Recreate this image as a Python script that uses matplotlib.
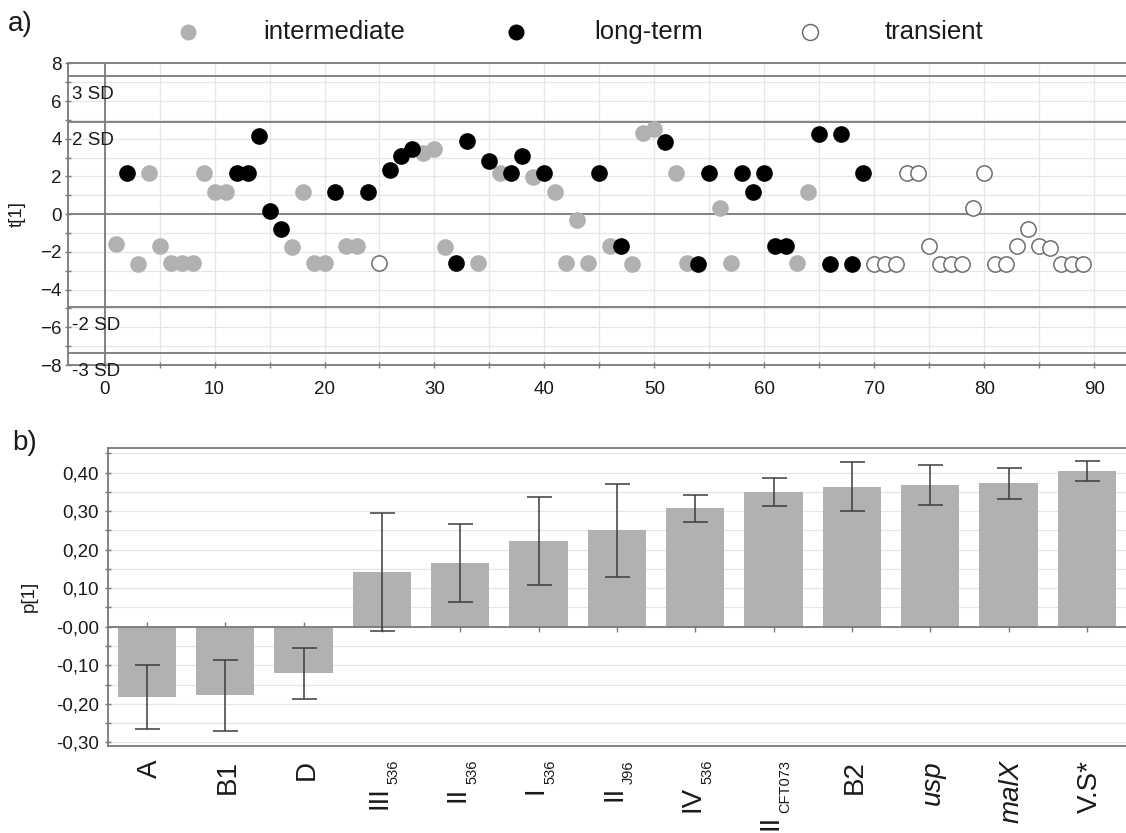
import matplotlib
matplotlib.use("Agg")
import matplotlib.pyplot as plt
from matplotlib.lines import Line2D
from matplotlib.ticker import MultipleLocator, FixedLocator, FixedFormatter
from matplotlib.transforms import blended_transform_factory, offset_copy

plt.rcParams["font.family"] = ["Liberation Sans", "DejaVu Sans"]

# ---- panel a: scores t[1] per observation ----
intermediate_idx = [1, 3, 4, 5, 6, 7, 8, 9, 10, 11, 17, 18, 19, 20, 22, 23, 29, 30,
                    31, 34, 36, 39, 41, 42, 43, 44, 46, 48, 49, 50, 52, 53, 56, 57, 63, 64]
intermediate_t = [-1.60, -2.67, 2.17, -1.69, -2.58, -2.58, -2.58, 2.17, 1.19, 1.19,
                  -1.72, 1.19, -2.58, -2.58, -1.69, -1.69, 3.25, 3.47, -1.72, -2.58,
                  2.17, 1.95, 1.19, -2.58, -0.32, -2.58, -1.69, -2.67, 4.30, 4.53,
                  2.17, -2.58, 0.30, -2.58, -2.58, 1.19]

longterm_idx = [2, 12, 13, 14, 15, 16, 21, 24, 26, 27, 28, 32, 33, 35, 37, 38, 40, 45,
                47, 51, 54, 55, 58, 59, 60, 61, 62, 65, 66, 67, 68, 69]
longterm_t = [2.17, 2.17, 2.17, 4.14, 0.19, -0.80, 1.19, 1.19, 2.36, 3.07, 3.47, -2.58,
              3.86, 2.84, 2.17, 3.11, 2.17, 2.17, -1.69, 3.82, -2.67, 2.17, 2.17, 1.19,
              2.17, -1.69, -1.69, 4.27, -2.67, 4.27, -2.67, 2.17]

transient_idx = [25, 70, 71, 72, 73, 74, 75, 76, 77, 78, 79, 80, 81, 82, 83, 84, 85,
                 86, 87, 88, 89]
transient_t = [-2.58, -2.67, -2.67, -2.67, 2.17, 2.17, -1.69, -2.67, -2.67, -2.67,
               0.35, 2.17, -2.67, -2.67, -1.69, -0.80, -1.69, -1.78, -2.67, -2.67, -2.67]

sd_levels = [7.35, 4.9, -4.9, -7.35]
sd_labels = ["3 SD", "2 SD", "-2 SD", "-3 SD"]

# ---- panel b: loadings p[1] ----
cat_main = ["A", "B1", "D", "III", "II", "I", "II", "IV", "II", "B2", "usp", "malX", "V.S*"]
cat_sub = ["", "", "", "536", "536", "536", "J96", "536", "CFT073", "", "", "", ""]
cat_italic = [False] * 10 + [True, True, False]
p1 = [-0.182, -0.178, -0.121, 0.142, 0.165, 0.223, 0.250, 0.307, 0.350, 0.363, 0.368,
      0.372, 0.404]
p1_err = [0.082, 0.093, 0.066, 0.152, 0.102, 0.114, 0.120, 0.035, 0.036, 0.064, 0.051,
          0.040, 0.026]
p_ticks = [-0.3, -0.2, -0.1, 0.0, 0.1, 0.2, 0.3, 0.4]
p_ticklabels = ["-0,30", "-0,20", "-0,10", "-0,00", "0,10", "0,20", "0,30", "0,40"]

GRAY = "#b1b1b1"
SPINE = "#7a7a7a"
GRID = "#e6e6e6"
TXT = "#1a1a1a"

W, H = 1126, 833
fig = plt.figure(figsize=(W / 100, H / 100), dpi=100)

ax_a = fig.add_axes([68 / W, 1 - 365 / H, 1 - 68 / W, (365 - 63.3) / H])
ax_b = fig.add_axes([107.7 / W, 1 - 745.5 / H, 1 - 107.7 / W, (745.5 - 447.5) / H])

# ---------- panel a ----------
ax = ax_a
ax.set_xlim(-3.33, 92.9)
ax.set_ylim(-8, 8)
ax.xaxis.set_major_locator(MultipleLocator(10))
ax.xaxis.set_minor_locator(MultipleLocator(5))
ax.yaxis.set_major_locator(MultipleLocator(2))
ax.yaxis.set_minor_locator(MultipleLocator(1))
ax.grid(True, which="both", color=GRID, lw=0.9, zorder=0)
ax.set_axisbelow(True)
ax.axhline(0, color=SPINE, lw=1.3, zorder=1)
ax.axvline(0, color=SPINE, lw=1.3, zorder=1)
for lvl, lab in zip(sd_levels, sd_labels):
    ax.axhline(lvl, color=SPINE, lw=1.3, zorder=1)
    ax.text(-2.95, lvl - 1.0, lab, fontsize=13.5, color=TXT, ha="left", va="center",
            clip_on=False, zorder=5)

ms = 12
ax.plot(intermediate_idx, intermediate_t, "o", ms=ms, mfc=GRAY, mec=GRAY, mew=0, zorder=3)
ax.plot(longterm_idx, longterm_t, "o", ms=ms, mfc="black", mec="black", mew=0, zorder=4)
ax.plot(transient_idx, transient_t, "o", ms=ms - 1, mfc="white", mec="#6e6e6e", mew=1.1,
        zorder=5)

for s in ["top", "left", "bottom"]:
    ax.spines[s].set_color(SPINE)
    ax.spines[s].set_linewidth(1.3)
ax.spines["right"].set_visible(False)
ax.tick_params(axis="both", which="both", direction="inout", length=4.5, width=1,
               color=SPINE, labelcolor=TXT, labelsize=13.5)
ax.tick_params(axis="x", pad=9)
ax.tick_params(axis="y", pad=2.2)
ax.set_ylabel("t[1]", fontsize=13.5, color=TXT)
ax.yaxis.set_label_coords(-42 / (W - 68), 0.5)

# ---------- panel b ----------
ax = ax_b
xs = list(range(len(p1)))
ax.set_xlim(-0.5, len(p1) - 0.5)
ax.set_ylim(-0.308, 0.465)
ax.yaxis.set_major_locator(FixedLocator(p_ticks))
ax.yaxis.set_major_formatter(FixedFormatter(p_ticklabels))
ax.yaxis.set_minor_locator(MultipleLocator(0.05))
ax.grid(True, which="both", axis="y", color=GRID, lw=0.9, zorder=0)
ax.set_axisbelow(True)
ax.set_xticks([])
ax.plot(xs, [0] * len(xs), "|", ms=6.5, mew=1, color=SPINE, zorder=1)
ax.bar(xs, p1, width=0.745, color=GRAY, zorder=2)
ax.axhline(0, color=SPINE, lw=1.3, zorder=3)
ax.errorbar(xs, p1, yerr=p1_err, fmt="none", ecolor="#3c3c3c", elinewidth=1.1,
            capsize=9, capthick=1.1, zorder=4)

for s in ["top", "left", "bottom"]:
    ax.spines[s].set_color(SPINE)
    ax.spines[s].set_linewidth(1.3)
ax.spines["right"].set_visible(False)
ax.tick_params(axis="y", which="both", direction="inout", length=4.5, width=1,
               color=SPINE, labelcolor=TXT, labelsize=13.5, pad=3.9)
ax.set_ylabel("p[1]", fontsize=13.5, color=TXT)
ax.yaxis.set_label_coords(-70 / (W - 107.7), 0.5)

# category labels (rotated, with small subscripts)
trans = blended_transform_factory(ax.transData, ax.transAxes)
lab_y = -14.5 / (745.5 - 447.5)
renderer = fig.canvas.get_renderer()
for i in xs:
    style = "italic" if cat_italic[i] else "normal"
    if not cat_sub[i]:
        ax.text(i, lab_y, cat_main[i], transform=offset_copy(trans, x=2.8, y=0, units="dots"),
                rotation=90, ha="center", va="top", fontsize=20, fontstyle=style,
                color=TXT, clip_on=False)
        continue
    sub = ax.text(i, lab_y, cat_sub[i], transform=offset_copy(trans, x=12, y=0, units="dots"),
                  rotation=90, ha="center", va="top", fontsize=10.5, color=TXT, clip_on=False)
    h = sub.get_window_extent(renderer).height
    ax.text(i, lab_y, cat_main[i], transform=offset_copy(trans, x=-2.8, y=-(h + 2), units="dots"),
            rotation=90, ha="center", va="top", fontsize=20, fontstyle=style,
            color=TXT, clip_on=False)

# ---------- panel letters and legend ----------
fig.text(8 / W, 1 - 24 / H, "a)", fontsize=20, color=TXT, ha="left", va="center")
fig.text(12 / W, 1 - 443 / H, "b)", fontsize=20, color=TXT, ha="left", va="center")

leg_y = 1 - 32 / H
legend_items = [
    (188, 263, "intermediate", dict(mfc=GRAY, mec=GRAY, mew=0)),
    (516, 594, "long-term", dict(mfc="black", mec="black", mew=0)),
    (810, 885, "transient", dict(mfc="white", mec="#6e6e6e", mew=1.1)),
]
for mx, tx, lab, kw in legend_items:
    fig.add_artist(Line2D([mx / W], [leg_y], marker="o", ms=11.5, ls="none",
                          transform=fig.transFigure, **kw))
    fig.text(tx / W, leg_y, lab, fontsize=18.5, color=TXT, ha="left", va="center")

fig.savefig("out.png", dpi=100)
